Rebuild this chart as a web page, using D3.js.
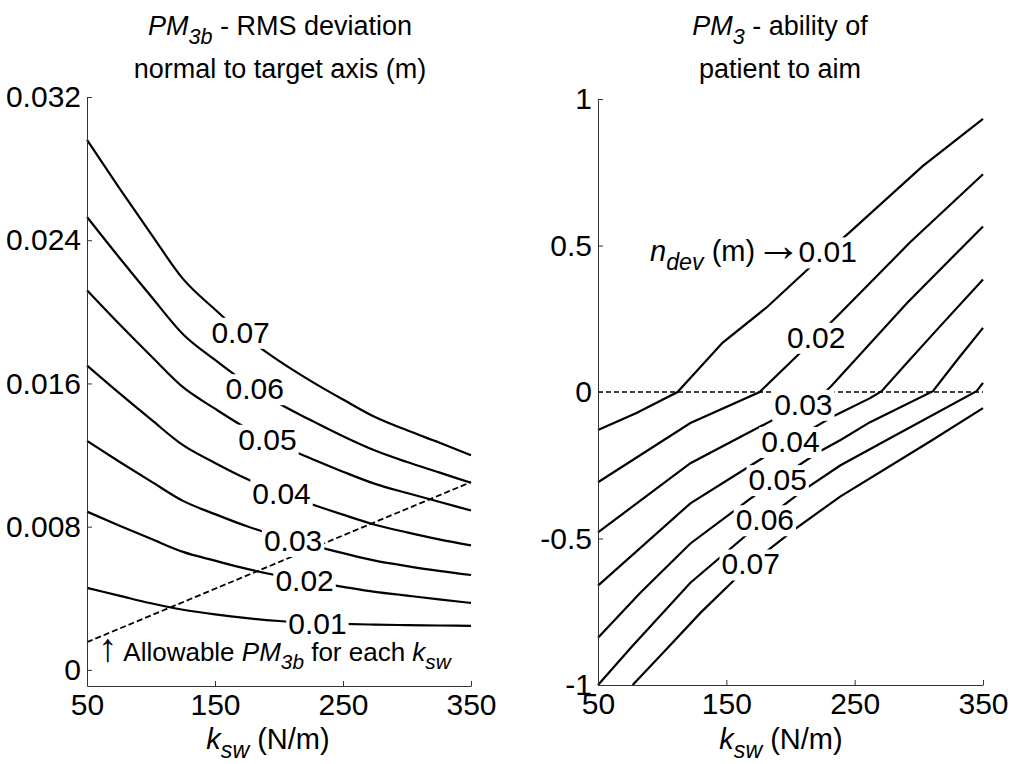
<!DOCTYPE html>
<html>
<head>
    <meta charset="utf-8">
    <title>PM3b and PM3 contours</title>
    <script src="https://d3js.org/d3.v7.min.js"></script>
    <style>
        body { margin: 0; background: #fff; }
        text { font-family: "Liberation Sans", Arial, sans-serif; fill: #000; }
    </style>
</head>
<body>
<div id="output"></div>

<script type="text/javascript">

    // ---- data ----
    var levels = ["0.01", "0.02", "0.03", "0.04", "0.05", "0.06", "0.07"];

    // left panel: PM3b (m) on a common ksw grid, one array per n_dev level
    var kGrid  = [50, 75, 100, 125, 150, 175, 200, 225, 250, 275, 300, 325, 350];
    var left01 = [.00458, .00415, .00372, .00336, .00310, .00289, .00273, .00262, .00257, .00253, .00250, .00248, .00246];
    var left02 = [.00884, .00807, .00732, .00659, .00610, .00564, .00526, .00494, .00464, .00436, .00415, .00394, .00374];
    var left03 = [.01279, .01164, .01053, .00944, .00870, .00802, .00746, .00697, .00652, .00610, .00580, .00553, .00530];
    var left04 = [.0170, .01547, .01399, .01255, .01156, .01066, .00991, .00927, .00867, .00811, .00768, .00729, .00695];
    var left05 = [.0212, .01933, .01753, .01579, .01459, .01348, .01257, .01181, .01107, .01039, .00988, .00939, .00890];
    var left06 = [.0253, .02305, .02087, .01875, .01731, .01599, .01488, .01394, .01305, .01225, .01161, .01103, .01045];
    var left07 = [.0296, .02694, .02436, .02184, .02013, .01856, .01726, .01613, .01510, .01412, .01338, .01270, .01199];
    var leftSeries = [left01, left02, left03, left04, left05, left06, left07];
    var leftLabelK = [230, 220, 211, 202, 191, 181, 170];      // where clabel put each label

    var allowK = [50, 150, 250, 350];                          // allowable PM3b (dashed)
    var allowV = [.00155, .00453, .00751, .01049];

    // right panel: PM3 vs ksw, [ksw, PM3] pairs per n_dev level
    var right01 = [[50, -.130], [80, -.072], [112, 0], [147, .168], [182, .291], [215, .425], [246, .545], [303, .771], [350, .932]];
    var right02 = [[50, -.308], [122, -.106], [176, 0], [206, .127], [236, .257], [293, .510], [350, .743]];
    var right03 = [[50, -.479], [122, -.243], [186, -.096], [210, -.041], [227, 0], [232, .021], [291, .305], [350, .565]];
    var right04 = [[50, -.661], [122, -.380], [178, -.226], [200, -.168], [235, -.079], [262, -.021], [271, .003], [288, .086], [314, .212], [350, .384]];
    var right05 = [[50, -.839], [83, -.685], [122, -.517], [170, -.360], [190, -.298], [222, -.205], [239, -.164], [262, -.103], [311, .003], [330, .110], [350, .219]];
    var right06 = [[50, -1.0], [77, -.866], [122, -.651], [180, -.435], [211, -.332], [239, -.250], [275, -.164], [345, .003], [350, .031]];
    var right07 = [[77, -1.0], [102, -.884], [130, -.753], [155, -.647], [169, -.586], [204, -.466], [239, -.356], [309, -.168], [350, -.055]];
    var rightSeries = [right01, right02, right03, right04, right05, right06, right07];
    var rightLabelK = [229, 220, 210, 200, 190, 180, 169];
    var zeroRef = [[50, 0], [350, 0]];

    var xTicks = [50, 150, 250, 350];
    var leftYTicks = [0, 0.008, 0.016, 0.024, 0.032];
    var rightYTicks = [-1, -0.5, 0, 0.5, 1];

    // ---- layout ----
    var w = 1011, h = 764;
    var tickFont = 30, labelFont = 30;

    var xL = d3.scaleLinear().domain([50, 350]).range([87, 471]);
    var yL = d3.scaleLinear().domain([-0.0009, 0.032]).range([686, 97]);
    var xR = d3.scaleLinear().domain([50, 350]).range([598, 983]);
    var yR = d3.scaleLinear().domain([-1, 1]).range([685, 99]);

    var svg = d3.select("#output").append("svg")
        .attr("width", w)
        .attr("height", h);

    // text with italic / subscript / arrow pieces
    function richText(g, x, y, parts, size, anchor) {
        var t = g.append("text")
            .attr("x", x)
            .attr("y", y)
            .attr("font-size", size)
            .attr("text-anchor", anchor || "middle");
        var down = 0;
        parts.forEach(function (p) {
            var s = t.append("tspan").text(p.t);
            if (p.i) s.attr("font-style", "italic");
            var want = p.sub ? size * 0.32 : 0;
            if (want !== down) { s.attr("dy", want - down); down = want; }
            if (p.sub) s.attr("font-size", size * 0.8);
            if (p.arrow) s.attr("font-size", size * p.arrow);
        });
        return t;
    }

    function drawAxes(x, y, yTicks, yFmt) {
        var gx = svg.append("g")
            .attr("transform", "translate(0," + y.range()[0] + ")")
            .call(d3.axisBottom(x).tickValues(xTicks).tickSizeInner(-5).tickSizeOuter(0).tickPadding(8));
        var gy = svg.append("g")
            .attr("transform", "translate(" + x.range()[0] + ",0)")
            .call(d3.axisLeft(y).tickValues(yTicks).tickSizeInner(-5).tickSizeOuter(0).tickPadding(6).tickFormat(yFmt));
        [gx, gy].forEach(function (g) {
            g.selectAll("path, line").attr("stroke", "#333").attr("stroke-width", 1);
            g.selectAll("text").attr("font-size", tickFont).attr("fill", "#000")
                .attr("font-family", "Liberation Sans, Arial, sans-serif");
        });
    }

    function drawPanel(x, y, series, curve) {
        var line = d3.line()
            .x(function (d) { return x(d[0]); })
            .y(function (d) { return y(d[1]); })
            .curve(curve);
        svg.append("g").selectAll(".contour")
            .data(series)
            .enter()
            .append("path")
            .attr("class", "contour")
            .attr("d", line)
            .attr("fill", "none")
            .attr("stroke", "#000")
            .attr("stroke-width", 2.2);
        return line;
    }

    // inline contour labels, white box hides the line under them
    function drawLabels(x, y, series, labelK) {
        var g = svg.append("g");
        series.forEach(function (s, i) {
            var interp = d3.scaleLinear()
                .domain(s.map(function (d) { return d[0]; }))
                .range(s.map(function (d) { return d[1]; }));
            var k = labelK[i];
            var lg = g.append("g");
            var t = lg.append("text")
                .attr("x", x(k))
                .attr("y", y(interp(k)))
                .attr("dy", "0.36em")
                .attr("text-anchor", "middle")
                .attr("font-size", labelFont)
                .text(levels[i]);
            var b = t.node().getBBox();
            lg.insert("rect", "text")
                .attr("x", b.x - 2).attr("y", b.y + 2)
                .attr("width", b.width + 4).attr("height", b.height - 2)
                .attr("fill", "#fff");
        });
        return g;
    }

    // ---------- left panel ----------
    var leftPairs = leftSeries.map(function (s) { return d3.zip(kGrid, s); });
    drawPanel(xL, yL, leftPairs, d3.curveMonotoneX);

    svg.append("path")
        .datum(d3.zip(allowK, allowV))
        .attr("d", d3.line().x(function (d) { return xL(d[0]); }).y(function (d) { return yL(d[1]); }))
        .attr("fill", "none")
        .attr("stroke", "#000")
        .attr("stroke-width", 1.8)
        .attr("stroke-dasharray", "6,3");

    drawLabels(xL, yL, leftPairs, leftLabelK);
    drawAxes(xL, yL, leftYTicks, function (d) { return d === 0 ? "0" : d3.format(".3f")(d); });

    richText(svg, 280, 35, [{t: "PM", i: true}, {t: "3b", i: true, sub: true}, {t: " - RMS deviation"}], 27);
    richText(svg, 280, 78, [{t: "normal to target axis (m)"}], 27);
    richText(svg, 268, 749, [{t: "k", i: true}, {t: "sw", i: true, sub: true}, {t: " (N/m)"}], 29);
    richText(svg, 98, 661, [{t: "\u2191", arrow: 1.5}, {t: " Allowable "}, {t: "PM", i: true}, {t: "3b", i: true, sub: true},
        {t: " for each "}, {t: "k", i: true}, {t: "sw", i: true, sub: true}], 26, "start");

    // ---------- right panel ----------
    drawPanel(xR, yR, rightSeries, d3.curveLinear);

    svg.append("path")
        .datum(zeroRef)
        .attr("d", d3.line().x(function (d) { return xR(d[0]); }).y(function (d) { return yR(d[1]); }))
        .attr("fill", "none")
        .attr("stroke", "#000")
        .attr("stroke-width", 1.6)
        .attr("stroke-dasharray", "5,3");

    var labR = drawLabels(xR, yR, rightSeries, rightLabelK);
    drawAxes(xR, yR, rightYTicks, function (d) { return d3.format("")(d).replace("\u2212", "-"); });

    // "n_dev (m) ->" pointer sits just left of the 0.01 label
    var firstLab = labR.select("text").node().getBBox();
    richText(svg, firstLab.x + 3, firstLab.y + firstLab.height * 0.78,
        [{t: "n", i: true}, {t: "dev", i: true, sub: true}, {t: " (m)"}, {t: "\u2192", arrow: 1.6}], 29, "end");

    richText(svg, 780, 35, [{t: "PM", i: true}, {t: "3", i: true, sub: true}, {t: " - ability of"}], 27);
    richText(svg, 780, 78, [{t: "patient to aim"}], 27);
    richText(svg, 781, 749, [{t: "k", i: true}, {t: "sw", i: true, sub: true}, {t: " (N/m)"}], 29);

</script>
</body>
</html>
